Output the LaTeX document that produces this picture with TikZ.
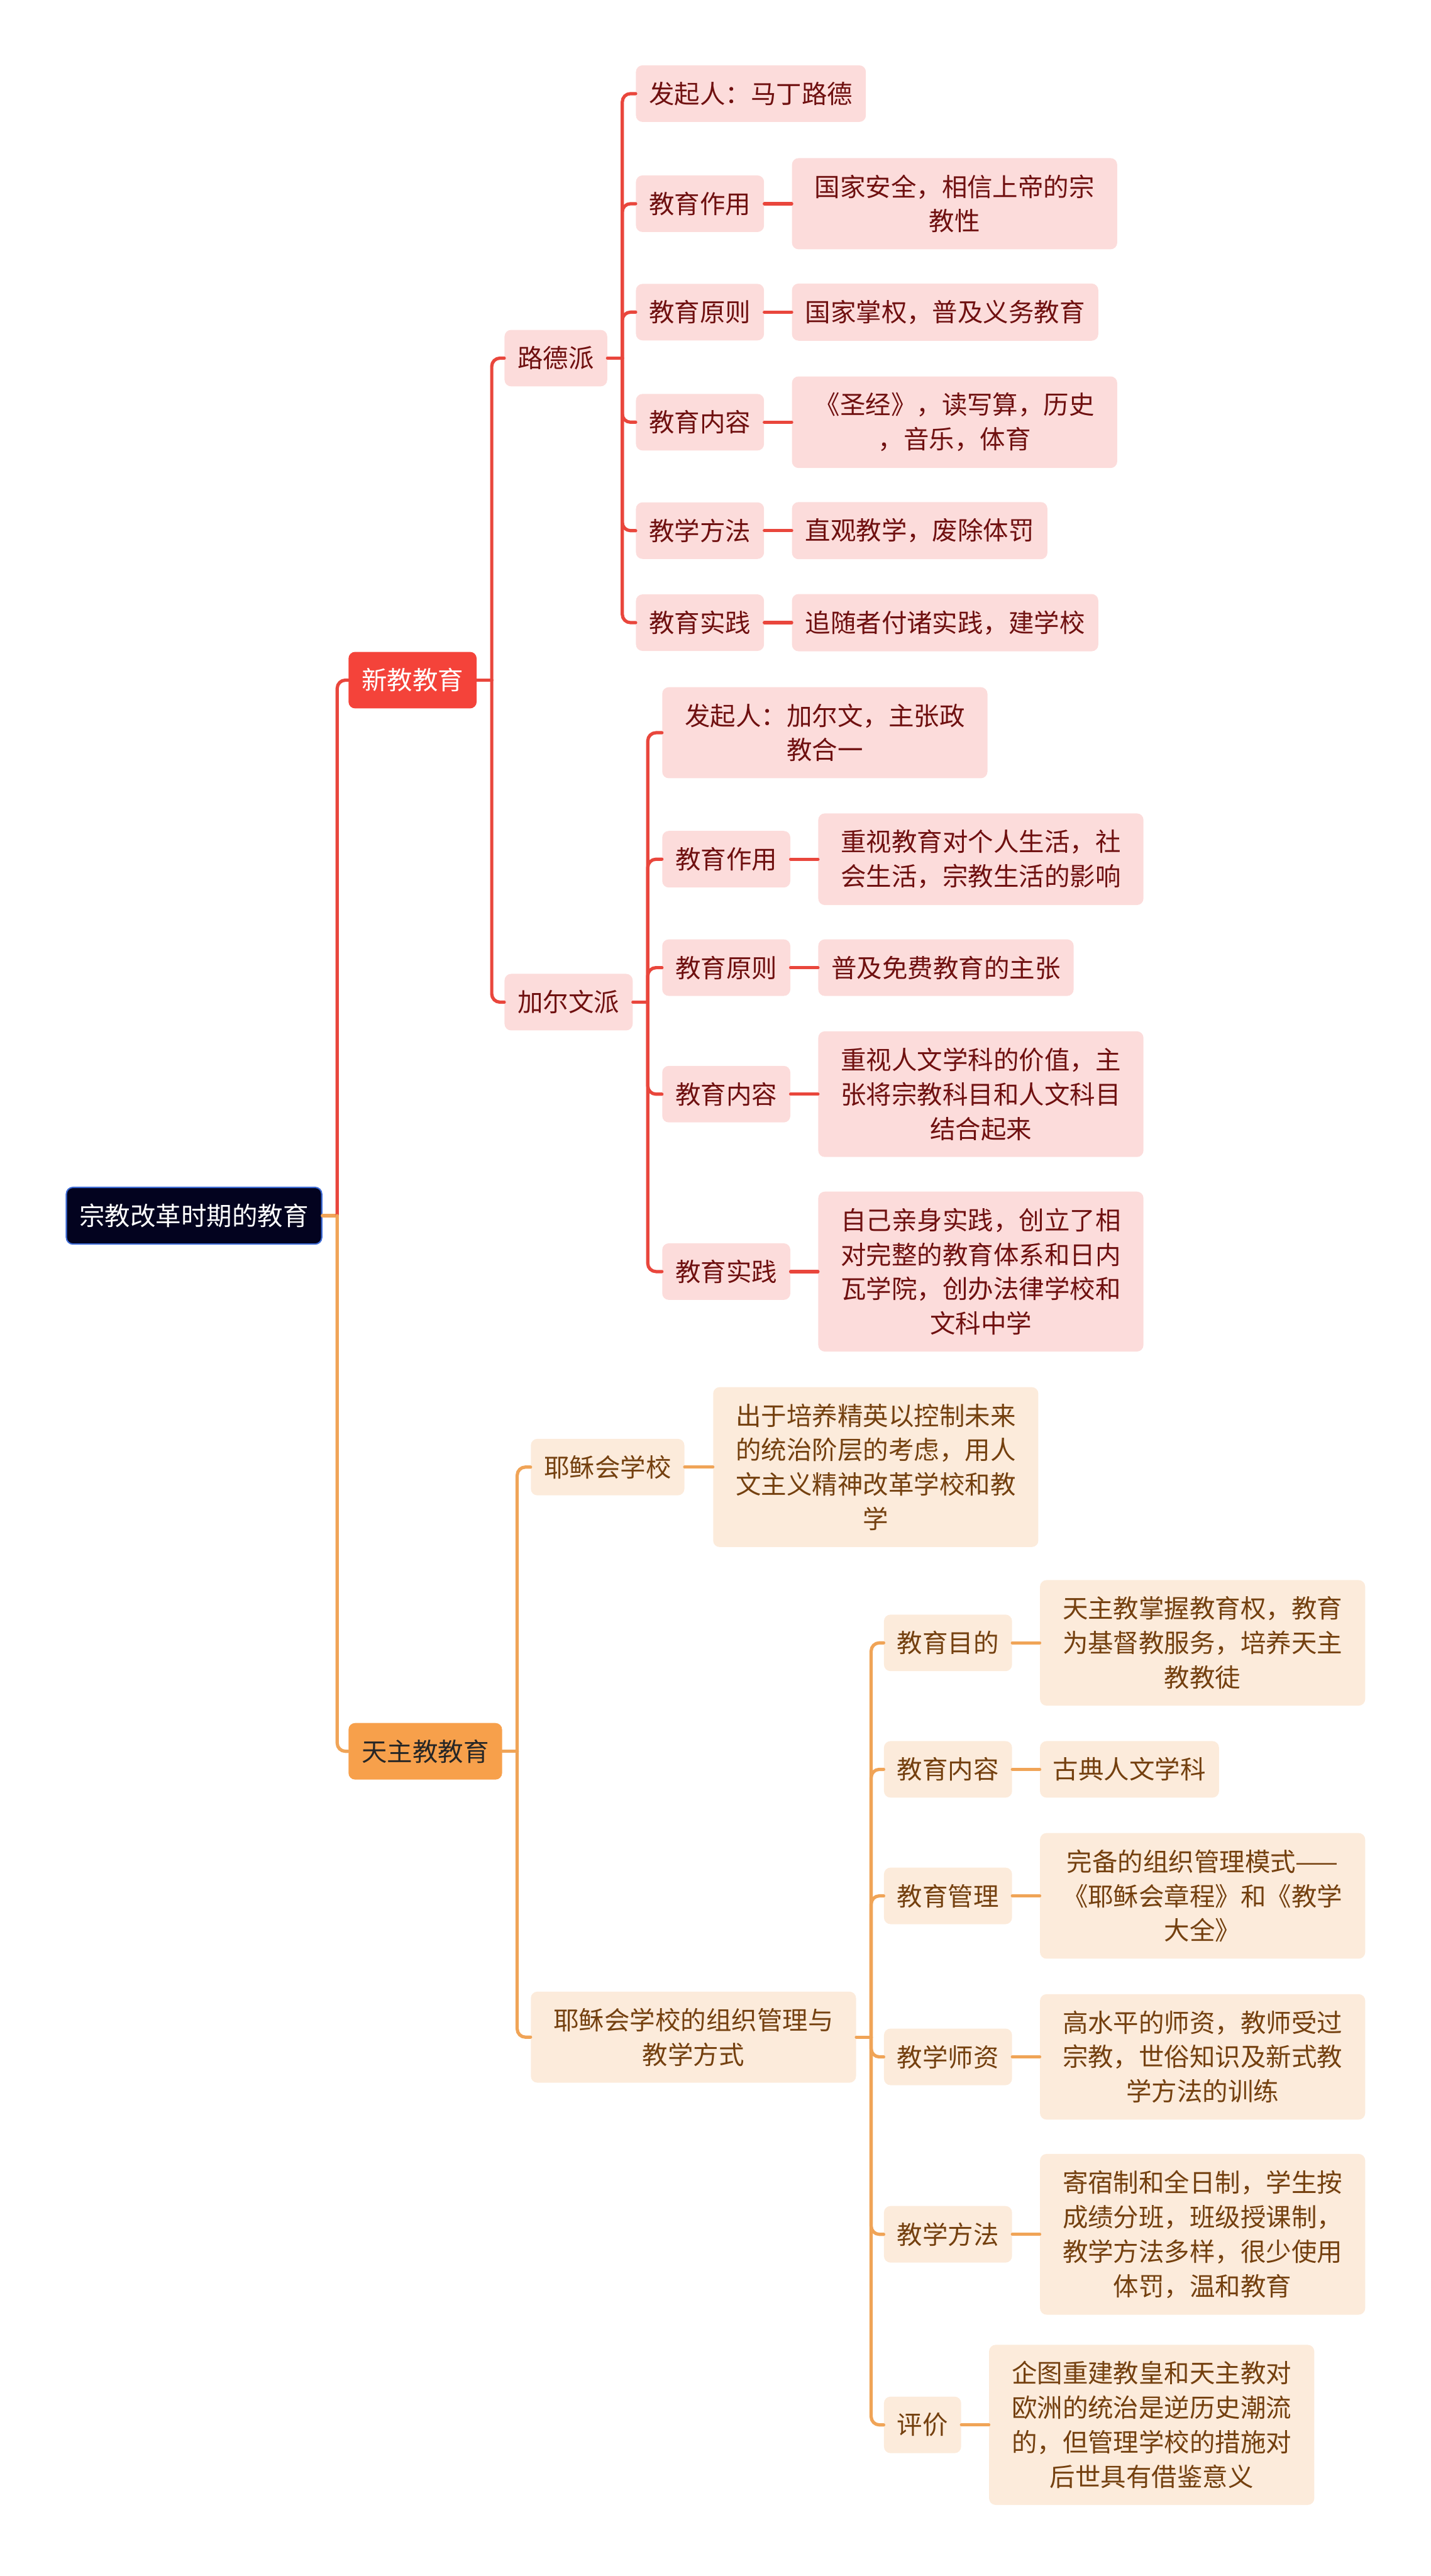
\documentclass[tikz,border=0pt]{standalone}
\usepackage{fontspec}
\setmainfont{Noto Sans CJK SC}
\definecolor{rootfill}{HTML}{03031F}
\definecolor{rootedge}{HTML}{3D6BD6}
\definecolor{redln}{HTML}{E9463C}
\definecolor{redfill}{HTML}{F4433A}
\definecolor{pinkfill}{HTML}{FCDCDB}
\definecolor{pinkink}{HTML}{6F1010}
\definecolor{orgln}{HTML}{F0A457}
\definecolor{orgfill}{HTML}{F7A04B}
\definecolor{peachfill}{HTML}{FCEBDB}
\definecolor{peachink}{HTML}{74400F}

\begin{document}
\begin{tikzpicture}[
  x=1pt, y=-1pt, line cap=round, line join=round,
  box/.style={rounded corners=4pt, anchor=west, align=center, inner xsep=8pt,
    inner ysep=10pt, font=\fontsize{15.5}{21}\selectfont},
  rootbox/.style={box, fill=rootfill, draw=rootedge, line width=0.8pt, text=white},
  redhead/.style={box, fill=redfill, text=white},
  orghead/.style={box, fill=orgfill, text=black!85},
  pinkbox/.style={box, fill=pinkfill, text=pinkink},
  peachbox/.style={box, fill=peachfill, text=peachink},
  redline/.style={draw=redln, line width=2pt},
  orgline/.style={draw=orgln, line width=2pt}]

\useasboundingbox (0,0) rectangle (871,1568);
\def\J{9}   % stub from a box to its spine

% ================================================================ root
\node[rootbox] (root) at (40,740) {宗教改革时期的教育};
\coordinate (rootJ) at ([xshift=\J pt]root.east);
\draw[orgline] (root.east) -- (rootJ);
\node[redhead] (xin) at (212,414) {新教教育};
\node[orghead] (tian) at (212,1066) {天主教教育};
\draw[redline, rounded corners=5pt] (rootJ) |- (xin.west);
\draw[orgline, rounded corners=5pt] (rootJ) |- (tian.west);

% ================================================================ protestant
\node[pinkbox] (luth) at (307,218) {路德派};
\node[pinkbox] (calv) at (307,610) {加尔文派};
\coordinate (xinJ) at ([xshift=\J pt]xin.east);
\draw[redline] (xin.east) -- (xinJ);
\foreach \b in {luth,calv} \draw[redline, rounded corners=5pt] (xinJ) |- (\b.west);

% luther
\coordinate (luthJ) at ([xshift=\J pt]luth.east);
\draw[redline] (luth.east) -- (luthJ);
\node[pinkbox] (l1) at (387,57) {发起人：马丁路德};
\draw[redline, rounded corners=5pt] (luthJ) |- (l1.west);
\foreach \k/\y/\w/\lab/\txt in {
    2/124/198/教育作用/{国家安全，相信上帝的宗\\教性},
    3/190/0/教育原则/{国家掌权，普及义务教育},
    4/257/198/教育内容/{《圣经》，读写算，历史\\，音乐，体育},
    5/323/0/教学方法/{直观教学，废除体罚},
    6/379/0/教育实践/{追随者付诸实践，建学校}}{
  \node[pinkbox] (l\k) at (387,\y) {\lab};
  \node[pinkbox, minimum width=\w] (ld\k) at (482,\y) {\txt};
  \draw[redline, rounded corners=5pt] (luthJ) |- (l\k.west);
  \draw[redline] (l\k.east) -- (ld\k.west);}

% calvin
\coordinate (calvJ) at ([xshift=\J pt]calv.east);
\draw[redline] (calv.east) -- (calvJ);
\node[pinkbox, minimum width=198] (c1) at (403,446) {发起人：加尔文，主张政\\教合一};
\draw[redline, rounded corners=5pt] (calvJ) |- (c1.west);
\foreach \k/\y/\w/\lab/\txt in {
    2/523/198/教育作用/{重视教育对个人生活，社\\会生活，宗教生活的影响},
    3/589/0/教育原则/{普及免费教育的主张},
    4/666/198/教育内容/{重视人文学科的价值，主\\张将宗教科目和人文科目\\结合起来},
    5/774/198/教育实践/{自己亲身实践，创立了相\\对完整的教育体系和日内\\瓦学院，创办法律学校和\\文科中学}}{
  \node[pinkbox] (c\k) at (403,\y) {\lab};
  \node[pinkbox, minimum width=\w] (cd\k) at (498,\y) {\txt};
  \draw[redline, rounded corners=5pt] (calvJ) |- (c\k.west);
  \draw[redline] (c\k.east) -- (cd\k.west);}

% ================================================================ catholic
\coordinate (tianJ) at ([xshift=\J pt]tian.east);
\draw[orgline] (tian.east) -- (tianJ);
\node[peachbox] (jes) at (323,893) {耶稣会学校};
\node[peachbox, minimum width=198] (jesd) at (434,893)
  {出于培养精英以控制未来\\的统治阶层的考虑，用人\\文主义精神改革学校和教\\学};
\node[peachbox, minimum width=198] (org) at (323,1240) {耶稣会学校的组织管理与\\教学方式};
\foreach \b in {jes,org} \draw[orgline, rounded corners=5pt] (tianJ) |- (\b.west);
\draw[orgline] (jes.east) -- (jesd.west);

\coordinate (orgJ) at ([xshift=\J pt]org.east);
\draw[orgline] (org.east) -- (orgJ);
\foreach \k/\y/\w/\dx/\lab/\txt in {
    1/1000/198/633/教育目的/{天主教掌握教育权，教育\\为基督教服务，培养天主\\教教徒},
    2/1077/0/633/教育内容/{古典人文学科},
    3/1154/198/633/教育管理/{完备的组织管理模式——\\《耶稣会章程》和《教学\\大全》},
    4/1252/198/633/教学师资/{高水平的师资，教师受过\\宗教，世俗知识及新式教\\学方法的训练},
    5/1360/198/633/教学方法/{寄宿制和全日制，学生按\\成绩分班，班级授课制，\\教学方法多样，很少使用\\体罚，温和教育},
    6/1476/198/602/评价/{企图重建教皇和天主教对\\欧洲的统治是逆历史潮流\\的，但管理学校的措施对\\后世具有借鉴意义}}{
  \node[peachbox] (o\k) at (538,\y) {\lab};
  \node[peachbox, minimum width=\w] (od\k) at (\dx,\y) {\txt};
  \draw[orgline, rounded corners=5pt] (orgJ) |- (o\k.west);
  \draw[orgline] (o\k.east) -- (od\k.west);}

\end{tikzpicture}
\end{document}
